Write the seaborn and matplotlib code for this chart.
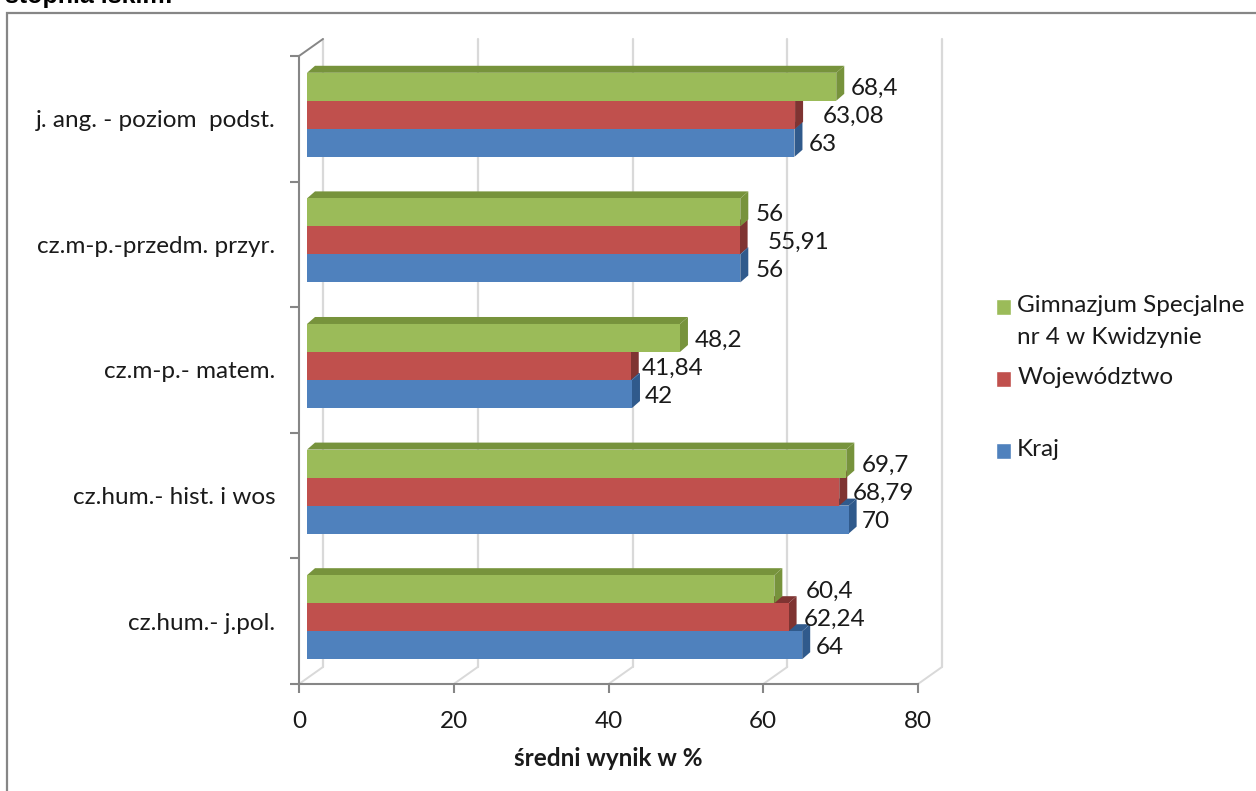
import pandas as pd
import seaborn as sns
import matplotlib.pyplot as plt
from matplotlib.patches import Polygon, Rectangle
from matplotlib.transforms import Affine2D, IdentityTransform

# wartosci
kategorie = ['j. ang. - poziom  podst.', 'cz.m-p.-przedm. przyr.', 'cz.m-p.- matem.',
             'cz.hum.- hist. i wos', 'cz.hum.- j.pol.']
szkola = [68.4, 56, 48.2, 69.7, 60.4]
wojewodztwo = [63.08, 55.91, 41.84, 68.79, 62.24]
kraj = [63, 56, 42, 70, 64]
etykiety_szkola = ['68,4', '56', '48,2', '69,7', '60,4']
etykiety_woj = ['63,08', '55,91', '41,84', '68,79', '62,24']
etykiety_kraj = ['63', '56', '42', '70', '64']
serie = ['Gimnazjum Specjalne\nnr 4 w Kwidzynie', 'Województwo\n', 'Kraj']
x_ticks = [0, 20, 40, 60, 80]

kolory = ['#9BBB59', '#C0504D', '#4F81BD']
ciemne = ['#77933C', '#7F3432', '#305A8C']
szary = '#868686'
siatka = '#D9D9D9'
tekst_kolor = '#1a1a1a'
rozmiar = 17.5

# odstep etykiety od konca slupka (px), nierowny jak w oryginale
odstepy = [[15, 15, 15, 15, 31], [28, 28, 11, 13, 15], [14, 15, 13, 13, 14]]

W, H = 1256, 791
sciana_dx, sciana_dy = 24, 17   # tylna sciana
bar_dx, bar_dy = 8, 4           # przesuniecie slupkow
glebia_dx, glebia_dy = 8, 7     # glebia slupka

sns.set_theme(style='white')
plt.rcParams['font.family'] = ['Lato', 'DejaVu Sans']

df = pd.DataFrame({
    'kategoria': kategorie * 3,
    'seria': [s for s in serie for _ in kategorie],
    'wynik': szkola + wojewodztwo + kraj,
})

fig = plt.figure(figsize=(W / 100, H / 100), dpi=100)
ax = fig.add_axes([299 / W, 1 - 684 / H, (918 - 299) / W, (684 - 56) / H])
sns.barplot(data=df, y='kategoria', x='wynik', hue='seria', hue_order=serie, order=kategorie,
            palette=kolory, saturation=1, width=0.669, gap=0, orient='h', legend=False,
            edgecolor='none', linewidth=0, ax=ax)
ax.set_xlim(0, 80)
ax.set_ylim(4.5, -0.5)


def px(dx, dy):
    return ax.transData + Affine2D().translate(dx, dy)


# tylna sciana i siatka
dol, gora = ax.transData.transform([(0, 4.5), (0, -0.5)])[:, 1]
for t in x_ticks:
    x0 = ax.transData.transform((t, 0))[0]
    ax.plot([x0 + sciana_dx] * 2, [dol + sciana_dy, gora + sciana_dy], color=siatka, lw=1.6,
            transform=IdentityTransform(), clip_on=False, zorder=0.5)
    ax.plot([x0, x0 + sciana_dx], [dol, dol + sciana_dy], color=siatka, lw=1.4,
            transform=IdentityTransform(), clip_on=False, zorder=0.5)
x0 = ax.transData.transform((0, 0))[0]
ax.plot([x0, x0 + sciana_dx], [gora, gora + sciana_dy], color=szary, lw=1.4,
        transform=IdentityTransform(), clip_on=False, zorder=0.6)

# efekt 3D: gorna i boczna sciana kazdego slupka, od niebieskiego do zielonego
for nr, kontener in enumerate(ax.containers):
    z = 5 - nr
    for patch in kontener:
        (x1, y1), (x2, y2) = ax.transData.transform(patch.get_bbox().get_points())
        lo, hi = min(y1, y2), max(y1, y2)
        x1, x2, lo, hi = x1 + bar_dx, x2 + bar_dx, lo + bar_dy, hi + bar_dy
        gorna = [(x1, hi), (x2, hi), (x2 + glebia_dx, hi + glebia_dy), (x1 + glebia_dx, hi + glebia_dy)]
        boczna = [(x2, lo), (x2 + glebia_dx, lo + glebia_dy), (x2 + glebia_dx, hi + glebia_dy), (x2, hi)]
        for pts in (gorna, boczna):
            ax.add_patch(Polygon(pts, closed=True, facecolor=ciemne[nr], edgecolor='none',
                                 transform=IdentityTransform(), clip_on=False, zorder=z))
        patch.set_transform(px(bar_dx, bar_dy))
        patch.set_clip_on(False)
        patch.set_zorder(z + 0.1)

# etykiety wartosci
for kontener, teksty, gaps in zip(ax.containers, [etykiety_szkola, etykiety_woj, etykiety_kraj], odstepy):
    for patch, tekst, gap in zip(kontener, teksty, gaps):
        ax.annotate(tekst, (patch.get_width(), patch.get_y() + patch.get_height() / 2),
                    xytext=(bar_dx + gap, bar_dy - 2), textcoords='offset pixels',
                    ha='left', va='center', fontsize=rozmiar, color=tekst_kolor, zorder=10,
                    annotation_clip=False)

# osie
sns.despine(ax=ax)
for s in ['left', 'bottom']:
    ax.spines[s].set_color(szary)
    ax.spines[s].set_linewidth(1.5)
    ax.spines[s].set_zorder(1)
ax.set_xticks(x_ticks)
ax.set_yticks([i - 0.5 for i in range(6)], [])
ax.set_yticks(range(5), kategorie, minor=True)
ax.tick_params(axis='y', which='major', left=True, length=6.5, width=1.5, color=szary)
ax.tick_params(axis='y', which='minor', left=False, length=0, pad=17, labelsize=rozmiar, labelcolor=tekst_kolor)
ax.tick_params(axis='x', bottom=True, length=6.5, width=1.5, color=szary, pad=13, labelsize=rozmiar,
               labelcolor=tekst_kolor)
ax.set_ylabel('')
ax.set_xlabel('średni wynik w %', fontsize=rozmiar, fontweight='bold', labelpad=10.5, color=tekst_kolor)

# legenda
uchwyty = [Rectangle((0, 0), 1, 1, facecolor=k) for k in kolory]
leg = fig.legend(uchwyty, serie, loc='upper left', bbox_to_anchor=(996 / W, 1 - 295 / H),
                 bbox_transform=fig.transFigure, frameon=False, fontsize=rozmiar, labelspacing=0.77,
                 handlelength=0.62, handleheight=0.62, handletextpad=0.25, borderpad=0, borderaxespad=0)
for tekst in leg.get_texts():
    tekst.set_linespacing(1.65)
    tekst.set_color(tekst_kolor)

# znacznik przy pierwszym wierszu opisu
fig.canvas.draw()
wys_wiersza = rozmiar * 100 / 72 * 1.0
for uchwyt, tekst in zip(leg.legend_handles, leg.get_texts()):
    ramka_t = tekst.get_window_extent()
    ramka_u = uchwyt.get_window_extent()
    cel = ramka_t.y1 - wys_wiersza / 2
    uchwyt.set_y(uchwyt.get_y() + (cel - (ramka_u.y0 + ramka_u.y1) / 2) * 72 / 100)

# ramka i uciety tytul
fig.add_artist(Rectangle((7 / W, -0.05), 1.1, 1 - 13 / H + 0.05, transform=fig.transFigure,
                         facecolor='none', edgecolor=szary, lw=1.6, zorder=-1))
fig.text(5 / W, 1 - 3 / H, 'stopnia łskim:', fontsize=18, fontweight='bold', family='Liberation Sans',
         ha='left', va='baseline', color='black')

fig.savefig('out.png', dpi=100)
